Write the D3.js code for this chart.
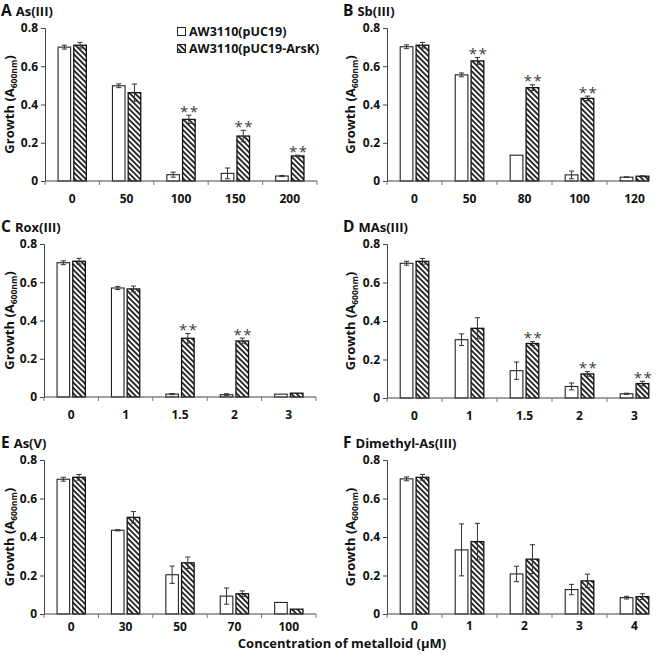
<!DOCTYPE html>
<html>
<head>
<meta charset="utf-8">
<script src="https://cdn.jsdelivr.net/npm/d3@7"></script>
<style>
  html, body { margin: 0; padding: 0; background: #fff; }
  svg { display: block; font-family: "Open Sans", "DejaVu Sans", sans-serif; }
</style>
</head>
<body>
<svg id="chart" width="660" height="655"></svg>
<script>
// ---------------- DATA ----------------
const seriesNames = ["AW3110(pUC19)", "AW3110(pUC19-ArsK)"];
const yTicks = [0, 0.2, 0.4, 0.6, 0.8];

// A  As(III)
const catsA = ["0", "50", "100", "150", "200"];
const ctrlA = [0.70, 0.498, 0.033, 0.040, 0.026];
const ctrlErrA = [0.010, 0.010, 0.013, 0.028, 0.003];
const arsA = [0.710, 0.462, 0.322, 0.235, 0.131];
const arsErrA = [0.015, 0.045, 0.022, 0.030, 0.004];
const sigA = [false, false, true, true, true];

// B  Sb(III)
const catsB = ["0", "50", "80", "100", "120"];
const ctrlB = [0.702, 0.555, 0.135, 0.032, 0.020];
const ctrlErrB = [0.010, 0.010, 0.000, 0.020, 0.002];
const arsB = [0.710, 0.628, 0.488, 0.432, 0.025];
const arsErrB = [0.015, 0.018, 0.015, 0.012, 0.002];
const sigB = [false, true, true, true, false];

// C  Rox(III)
const catsC = ["0", "1", "1.5", "2", "3"];
const ctrlC = [0.702, 0.570, 0.015, 0.012, 0.015];
const ctrlErrC = [0.010, 0.008, 0.003, 0.005, 0.000];
const arsC = [0.710, 0.565, 0.307, 0.293, 0.020];
const arsErrC = [0.015, 0.015, 0.025, 0.015, 0.000];
const sigC = [false, false, true, true, false];

// D  MAs(III)
const catsD = ["0", "1", "1.5", "2", "3"];
const ctrlD = [0.700, 0.303, 0.142, 0.060, 0.022];
const ctrlErrD = [0.010, 0.030, 0.045, 0.018, 0.003];
const arsD = [0.710, 0.362, 0.283, 0.125, 0.075];
const arsErrD = [0.015, 0.055, 0.010, 0.012, 0.012];
const sigD = [false, false, true, true, true];

// E  As(V)
const catsE = ["0", "30", "50", "70", "100"];
const ctrlE = [0.700, 0.435, 0.204, 0.093, 0.060];
const ctrlErrE = [0.010, 0.003, 0.045, 0.042, 0.000];
const arsE = [0.710, 0.502, 0.266, 0.105, 0.025];
const arsErrE = [0.015, 0.030, 0.030, 0.015, 0.000];
const sigE = [false, false, false, false, false];

// F  Dimethyl-As(III)
const catsF = ["0", "1", "2", "3", "4"];
const ctrlF = [0.702, 0.333, 0.208, 0.127, 0.085];
const ctrlErrF = [0.010, 0.135, 0.040, 0.027, 0.007];
const arsF = [0.710, 0.376, 0.285, 0.172, 0.090];
const arsErrF = [0.015, 0.095, 0.075, 0.035, 0.015];
const sigF = [false, false, false, false, false];

const panelLetters = ["A", "B", "C", "D", "E", "F"];
const panelTitles = ["As(III)", "Sb(III)", "Rox(III)", "MAs(III)", "As(V)", "Dimethyl-As(III)"];
const xAxisTitle = "Concentration of metalloid (\u03BCM)";

// ---------------- LAYOUT ----------------
const svg = d3.select("#chart");
const defs = svg.append("defs");
const pat = defs.append("pattern")
  .attr("id", "hatch")
  .attr("patternUnits", "userSpaceOnUse")
  .attr("width", 3.8).attr("height", 3.8)
  .attr("patternTransform", "rotate(-45)");
pat.append("rect").attr("width", 3.8).attr("height", 3.8).attr("fill", "#fff");
pat.append("line").attr("x1", 1).attr("y1", -1).attr("x2", 1).attr("y2", 5)
  .attr("stroke", "#111").attr("stroke-width", 1.7);

const panels = [
  {cats: catsA, ctrl: ctrlA, ctrlErr: ctrlErrA, ars: arsA, arsErr: arsErrA, sig: sigA},
  {cats: catsB, ctrl: ctrlB, ctrlErr: ctrlErrB, ars: arsB, arsErr: arsErrB, sig: sigB},
  {cats: catsC, ctrl: ctrlC, ctrlErr: ctrlErrC, ars: arsC, arsErr: arsErrC, sig: sigC},
  {cats: catsD, ctrl: ctrlD, ctrlErr: ctrlErrD, ars: arsD, arsErr: arsErrD, sig: sigD},
  {cats: catsE, ctrl: ctrlE, ctrlErr: ctrlErrE, ars: arsE, arsErr: arsErrE, sig: sigE},
  {cats: catsF, ctrl: ctrlF, ctrlErr: ctrlErrF, ars: arsF, arsErr: arsErrF, sig: sigF}
];

// geometry per panel: x-range of plot, y of 0 and y of 0.8
const geom = [
  {x0: 45, x1: 317, yb: 181, yt: 28, axEnd: 317, lab: 22},
  {x0: 387, x1: 662, yb: 181, yt: 28, axEnd: 649, lab: 22},
  {x0: 44, x1: 316, yb: 397, yt: 244, axEnd: 316, lab: 22},
  {x0: 387, x1: 662, yb: 398, yt: 244, axEnd: 649, lab: 22},
  {x0: 44, x1: 316, yb: 614, yt: 460, axEnd: 316, lab: 17},
  {x0: 387, x1: 662, yb: 614, yt: 460, axEnd: 649, lab: 16}
];

const axisColor = "#444";
const errColor = "#333";

panels.forEach((p, i) => {
  const g = geom[i];
  const left = i % 2 === 0;
  const gp = svg.append("g");

  const x = d3.scaleBand().domain(p.cats).range([g.x0, g.x1]).paddingInner(0).paddingOuter(0);
  const bw = x.bandwidth();
  const xs = d3.scaleBand().domain(["ctrl", "ars"]).range([bw * 0.24, bw * 0.76]).paddingInner(0.2);
  const y = d3.scaleLinear().domain([0, 0.8]).range([g.yb, g.yt]);

  // y axis
  const yAx = gp.append("g").attr("transform", `translate(${g.x0},0)`)
    .call(d3.axisLeft(y).tickValues(yTicks).tickFormat(d => d === 0 ? "0" : d3.format(".1f")(d)).tickSize(4).tickPadding(3));
  yAx.select(".domain").attr("stroke", axisColor).attr("stroke-width", 1);
  yAx.selectAll(".tick line").attr("stroke", axisColor);
  yAx.selectAll(".tick text").attr("font-size", 12).attr("font-weight", 700)
    .attr("fill", "#111").attr("font-family", "'Open Sans', sans-serif");

  // bars
  const rows = p.cats.map((c, k) => ({c, k}));
  const grp = gp.append("g").selectAll("g").data(rows).join("g")
    .attr("transform", d => `translate(${x(d.c)},0)`);

  grp.append("rect")
    .attr("x", xs("ctrl")).attr("width", xs.bandwidth())
    .attr("y", d => y(p.ctrl[d.k])).attr("height", d => y(0) - y(p.ctrl[d.k]))
    .attr("fill", "#fff").attr("stroke", "#222").attr("stroke-width", 1.1);
  grp.append("rect")
    .attr("x", xs("ars")).attr("width", xs.bandwidth())
    .attr("y", d => y(p.ars[d.k])).attr("height", d => y(0) - y(p.ars[d.k]))
    .attr("fill", "url(#hatch)").attr("stroke", "#111").attr("stroke-width", 1.3);

  // error bars
  const eb = (key, errKey) => {
    const cx = xs(key) + xs.bandwidth() / 2;
    const e = grp.filter(d => p[errKey][d.k] > 0.0015).append("g").attr("stroke", errColor).attr("stroke-width", 1);
    e.append("line").attr("x1", cx).attr("x2", cx)
      .attr("y1", d => y(p[key][d.k] - p[errKey][d.k])).attr("y2", d => y(p[key][d.k] + p[errKey][d.k]));
    e.append("line").attr("x1", cx - 2.6).attr("x2", cx + 2.6)
      .attr("y1", d => y(p[key][d.k] + p[errKey][d.k])).attr("y2", d => y(p[key][d.k] + p[errKey][d.k]));
    e.append("line").attr("x1", cx - 2.6).attr("x2", cx + 2.6)
      .attr("y1", d => y(p[key][d.k] - p[errKey][d.k])).attr("y2", d => y(p[key][d.k] - p[errKey][d.k]));
  };
  eb("ctrl", "ctrlErr");
  eb("ars", "arsErr");

  // significance stars
  grp.filter(d => p.sig[d.k]).append("text")
    .attr("x", xs("ars") + xs.bandwidth() / 2 + 1)
    .attr("y", d => y(p.ars[d.k] + p.arsErr[d.k]) + 1.5)
    .attr("text-anchor", "middle")
    .attr("font-size", 15).attr("fill", "#3a3a3a").attr("letter-spacing", 1.5)
    .attr("font-family", "'Open Sans', sans-serif")
    .text("**");

  // x axis
  gp.append("line").attr("x1", g.x0).attr("x2", g.axEnd).attr("y1", g.yb).attr("y2", g.yb)
    .attr("stroke", axisColor).attr("stroke-width", 1);
  const bounds = p.cats.map(c => x(c)).concat([g.x1]).filter(v => v <= g.axEnd);
  gp.append("g").selectAll("line").data(bounds).join("line")
    .attr("x1", d => d).attr("x2", d => d).attr("y1", g.yb).attr("y2", g.yb + 4)
    .attr("stroke", "#777").attr("stroke-width", 1);
  gp.append("g").selectAll("text").data(p.cats).join("text")
    .attr("x", d => x(d) + bw / 2).attr("y", g.yb + g.lab)
    .attr("text-anchor", "middle").attr("font-size", 12).attr("font-weight", 700).attr("fill", "#111")
    .text(d => d);

  // y label
  const ylx = left ? 14 : 355;
  const ylt = gp.append("text")
    .attr("transform", `translate(${ylx},${(g.yb + g.yt) / 2}) rotate(-90)`)
    .attr("text-anchor", "middle").attr("font-size", 13).attr("font-weight", 700).attr("fill", "#111");
  ylt.append("tspan").text("Growth (A");
  ylt.append("tspan").attr("font-size", 8.5).attr("dy", 3).text("600nm");
  ylt.append("tspan").attr("dy", -3).text(")");

  // panel title
  const tx = left ? 1 : 343;
  const ty = g.yt - 12;
  const tt = gp.append("text").attr("x", tx).attr("y", ty).attr("font-weight", 700).attr("fill", "#111");
  tt.append("tspan").attr("font-size", 15.5).text(panelLetters[i]);
  tt.append("tspan").attr("font-size", 13).attr("dx", 4).text(panelTitles[i]);
});

// legend
const leg = svg.append("g").attr("transform", "translate(177,27)");
seriesNames.forEach((s, k) => {
  const row = leg.append("g").attr("transform", `translate(0,${k * 17})`);
  row.append("rect").attr("x", 0.5).attr("y", 0.5).attr("width", 8).attr("height", 8)
    .attr("fill", k === 0 ? "#fff" : "url(#hatch)").attr("stroke", "#222").attr("stroke-width", 1);
  row.append("text").attr("x", 12).attr("y", 9).attr("font-size", 12.5).attr("font-weight", 700)
    .attr("fill", "#111").text(s);
});

// x axis title
svg.append("text").attr("x", 342).attr("y", 648).attr("text-anchor", "middle")
  .attr("font-size", 13).attr("font-weight", 700).attr("fill", "#111").text(xAxisTitle);
</script>
</body>
</html>
